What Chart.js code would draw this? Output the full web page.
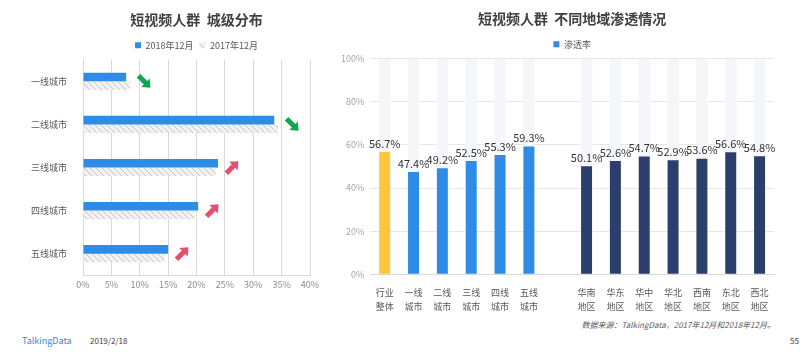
<!DOCTYPE html>
<html>
<head>
<meta charset="utf-8">
<script src="https://cdn.jsdelivr.net/npm/chart.js@4.4.0/dist/chart.umd.min.js"></script>
<style>
  body { margin: 0; background: #fff; font-family: "Noto Sans CJK SC", sans-serif; }
  #wrap { position: relative; width: 807px; height: 358px; overflow: hidden; }
  .box { position: absolute; }
  .foot { position: absolute; font-size: 8px; color: #404040; white-space: nowrap; }
</style>
</head>
<body>
<div id="wrap">
  <div class="box" style="left:0;top:0;width:330px;height:294px;"><canvas id="chCity"></canvas></div>
  <div class="box" style="left:330px;top:0;width:477px;height:317px;"><canvas id="chRegion"></canvas></div>
  <div class="foot" style="right:32px;top:319px;font-style:italic;color:#595959;">数据来源：TalkingData，2017年12月和2018年12月。</div>
  <div class="foot" style="left:22px;top:334px;font-size:9px;color:#2e8be6;">TalkingData</div>
  <div class="foot" style="left:90px;top:335px;">2019/2/18</div>
  <div class="foot" style="left:790px;top:335px;">55</div>
</div>
<script>
// left chart data
var cityLabels = ['一线城市', '二线城市', '三线城市', '四线城市', '五线城市'];
var city2018 = [7.6, 33.7, 23.8, 20.3, 15.0];
var city2017 = [8.3, 34.4, 23.4, 19.6, 14.4];
var cityTrend = ['down', 'down', 'up', 'up', 'up'];
var cityTicks = [0, 5, 10, 15, 20, 25, 30, 35, 40];

// right chart data
var regionLabels = [['行业','整体'], ['一线','城市'], ['二线','城市'], ['三线','城市'], ['四线','城市'], ['五线','城市'], '',
  ['华南','地区'], ['华东','地区'], ['华中','地区'], ['华北','地区'], ['西南','地区'], ['东北','地区'], ['西北','地区']];
var regionValues = [56.7, 47.4, 49.2, 52.5, 55.3, 59.3, null, 50.1, 52.6, 54.7, 52.9, 53.6, 56.6, 54.8];
var regionGroup = ['total', 'city', 'city', 'city', 'city', 'city', '', 'area', 'area', 'area', 'area', 'area', 'area', 'area'];
var regionTicks = [0, 20, 40, 60, 80, 100];

var font = '"Noto Sans CJK SC", sans-serif';
Chart.defaults.font.family = font;
Chart.defaults.animation = false;
Chart.defaults.maintainAspectRatio = false;

var groupColors = { total: '#fbc63c', city: '#2e8be6', area: '#2c3e6b', '': 'rgba(0,0,0,0)' };

// hatched fill for 2017
function hatch() {
  var c = document.createElement('canvas');
  c.width = 6; c.height = 6;
  var x = c.getContext('2d');
  x.fillStyle = '#f2f2f2';
  x.fillRect(0, 0, 6, 6);
  x.strokeStyle = '#c4c4c4';
  x.lineWidth = 1;
  x.beginPath();
  x.moveTo(0, 0); x.lineTo(6, 6);
  x.moveTo(-3, 3); x.lineTo(3, 9);
  x.moveTo(3, -3); x.lineTo(9, 3);
  x.stroke();
  return x.createPattern(c, 'repeat');
}
var hatchFill = hatch();

// trend arrows next to bars
var arrowPlugin = {
  id: 'arrows',
  afterDatasetsDraw: function(chart) {
    var ctx = chart.ctx;
    var xs = chart.scales.x, ys = chart.scales.y;
    cityTrend.forEach(function(dir, i) {
      var end = xs.getPixelForValue(Math.max(city2018[i], city2017[i]));
      var cx = end + 14, cy = ys.getPixelForValue(i);
      var up = dir === 'up';
      ctx.save();
      ctx.translate(cx, cy);
      ctx.rotate(up ? -Math.PI / 4 : Math.PI / 4);
      ctx.fillStyle = up ? '#e5506e' : '#12a552';
      ctx.beginPath();
      ctx.moveTo(-8, -2.5);
      ctx.lineTo(2, -2.5);
      ctx.lineTo(2, -6);
      ctx.lineTo(9, 0);
      ctx.lineTo(2, 6);
      ctx.lineTo(2, 2.5);
      ctx.lineTo(-8, 2.5);
      ctx.closePath();
      ctx.fill();
      ctx.restore();
    });
  }
};

new Chart(document.getElementById('chCity'), {
  type: 'bar',
  data: {
    labels: cityLabels,
    datasets: [
      { label: '2018年12月', data: city2018, backgroundColor: '#2e8be6', barPercentage: 1, categoryPercentage: 0.4 },
      { label: '2017年12月', data: city2017, backgroundColor: hatchFill, barPercentage: 1, categoryPercentage: 0.4 }
    ]
  },
  options: {
    indexAxis: 'y',
    layout: { padding: { left: 23, right: 20, top: 8 } },
    plugins: {
      title: { display: true, text: '短视频人群  城级分布', color: '#404040', fullSize: false,
        font: { size: 14, weight: 'bold' }, padding: { top: 3, bottom: 7 } },
      legend: { fullSize: false,
        labels: { boxWidth: 6, boxHeight: 6, color: '#595959', font: { size: 9 }, padding: 6 } },
      tooltip: { enabled: false }
    },
    scales: {
      x: {
        min: 0, max: 40,
        afterBuildTicks: function(s) { s.ticks = cityTicks.map(function(v) { return { value: v }; }); },
        ticks: { callback: function(v) { return v + '%'; }, color: '#8c8c8c', font: { size: 9 }, padding: 4 },
        grid: { color: '#d9d9d9', drawTicks: false },
        border: { color: '#d9d9d9' }
      },
      y: {
        ticks: { color: '#595959', font: { size: 9 }, padding: 8 },
        grid: { display: false },
        border: { color: '#d9d9d9' }
      }
    }
  },
  plugins: [arrowPlugin]
});

// value labels above bars
var valuePlugin = {
  id: 'values',
  afterDatasetsDraw: function(chart) {
    var ctx = chart.ctx;
    var meta = chart.getDatasetMeta(1);
    ctx.save();
    ctx.fillStyle = '#333';
    ctx.font = '11px ' + font;
    ctx.textAlign = 'center';
    ctx.textBaseline = 'bottom';
    meta.data.forEach(function(bar, i) {
      if (regionValues[i] == null) return;
      ctx.fillText(regionValues[i].toFixed(1) + '%', bar.x, bar.y - 3);
    });
    ctx.restore();
  }
};

new Chart(document.getElementById('chRegion'), {
  type: 'bar',
  data: {
    labels: regionLabels,
    datasets: [
      { label: 'bg', data: regionValues.map(function(v) { return v == null ? null : 100; }),
        backgroundColor: '#f5f6fa', barPercentage: 0.4, categoryPercentage: 1, grouped: false, order: 2 },
      { label: '渗透率', data: regionValues,
        backgroundColor: regionGroup.map(function(g) { return groupColors[g]; }),
        barPercentage: 0.38, categoryPercentage: 1, grouped: false, order: 1 }
    ]
  },
  options: {
    layout: { padding: { left: 5, right: 33, top: 4 } },
    plugins: {
      title: { display: true, text: '短视频人群  不同地域渗透情况', color: '#404040', fullSize: false,
        font: { size: 14, weight: 'bold' }, padding: { top: 6, bottom: 7 } },
      legend: { fullSize: false,
        labels: { boxWidth: 6, boxHeight: 6, color: '#595959', font: { size: 9 }, padding: 6,
          generateLabels: function() {
            return [{ text: '渗透率', fillStyle: '#2e8be6', strokeStyle: '#2e8be6', lineWidth: 0, datasetIndex: 1, fontColor: '#595959' }];
          } } },
      tooltip: { enabled: false }
    },
    scales: {
      y: {
        min: 0, max: 100,
        afterBuildTicks: function(s) { s.ticks = regionTicks.map(function(v) { return { value: v }; }); },
        ticks: { callback: function(v) { return v + '%'; }, color: '#a6a6a6', font: { size: 9 }, padding: 6 },
        grid: { color: '#e6e6e6', drawTicks: false },
        border: { display: false }
      },
      x: {
        ticks: { color: '#595959', font: { size: 9, lineHeight: 1.6 }, padding: 3, maxRotation: 0, autoSkip: false },
        grid: { display: false },
        border: { color: '#d9d9d9' }
      }
    }
  },
  plugins: [valuePlugin]
});
</script>
</body>
</html>
